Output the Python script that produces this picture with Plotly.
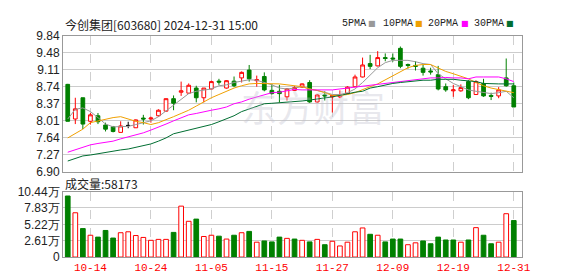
import plotly.graph_objects as go

W, H = 578, 276

dates = ["2024-10-09","2024-10-10","2024-10-11","2024-10-14","2024-10-15","2024-10-16","2024-10-17","2024-10-18",
         "2024-10-21","2024-10-22","2024-10-23","2024-10-24","2024-10-25","2024-10-28","2024-10-29","2024-10-30",
         "2024-10-31","2024-11-01","2024-11-04","2024-11-05","2024-11-06","2024-11-07","2024-11-08","2024-11-11",
         "2024-11-12","2024-11-13","2024-11-14","2024-11-15","2024-11-18","2024-11-19","2024-11-20","2024-11-21",
         "2024-11-22","2024-11-25","2024-11-26","2024-11-27","2024-11-28","2024-11-29","2024-12-02","2024-12-03",
         "2024-12-04","2024-12-05","2024-12-06","2024-12-09","2024-12-10","2024-12-11","2024-12-12","2024-12-13",
         "2024-12-16","2024-12-17","2024-12-18","2024-12-19","2024-12-20","2024-12-23","2024-12-24","2024-12-25",
         "2024-12-26","2024-12-27","2024-12-30","2024-12-31"]

opens = [8.79,8.04,8.50,7.99,8.11,7.91,7.87,7.75,7.90,7.85,8.06,8.04,8.11,8.21,8.48,8.62,8.60,8.71,8.50,8.69,
         8.86,8.71,8.86,8.93,9.10,8.87,8.96,8.66,8.64,8.52,8.66,8.73,8.83,8.41,8.56,8.52,8.52,8.59,8.74,8.95,
         9.24,9.19,9.37,9.36,9.57,9.22,9.20,9.14,9.08,9.00,8.74,8.65,8.65,8.85,8.57,8.81,8.55,8.54,8.93,8.76]
highs = [8.80,8.50,8.50,8.17,8.17,7.96,7.89,7.99,7.98,8.03,8.13,8.09,8.25,8.48,8.55,8.85,8.81,8.76,8.71,8.87,
         8.91,8.88,8.96,9.07,9.21,8.98,9.05,8.80,8.78,8.71,8.75,8.81,8.88,8.58,8.64,8.56,8.66,8.75,9.00,9.37,
         9.43,9.51,9.46,9.46,9.61,9.24,9.29,9.21,9.15,9.19,8.81,8.78,8.79,8.88,8.88,8.91,8.61,8.73,9.35,8.83]
lows = [7.99,7.93,7.82,7.92,7.93,7.77,7.75,7.75,7.84,7.85,7.92,7.96,8.09,8.20,8.23,8.54,8.59,8.40,8.40,8.68,
        8.78,8.70,8.73,8.83,8.85,8.74,8.64,8.57,8.40,8.44,8.65,8.71,8.39,8.39,8.44,8.18,8.49,8.58,8.73,8.94,
        9.12,9.18,9.29,9.28,9.14,9.13,9.09,8.98,9.00,8.66,8.63,8.52,8.63,8.47,8.56,8.52,8.45,8.49,8.74,8.30]
closes = [7.99,8.26,7.93,8.13,7.98,7.82,7.77,7.89,7.90,8.02,8.04,8.06,8.23,8.48,8.38,8.65,8.77,8.50,8.71,8.85,
          8.84,8.87,8.76,9.05,8.91,8.89,8.67,8.59,8.59,8.69,8.72,8.80,8.41,8.56,8.54,8.55,8.57,8.73,8.95,9.21,
          9.18,9.37,9.35,9.34,9.18,9.20,9.18,9.05,9.06,8.69,8.67,8.67,8.72,8.50,8.85,8.54,8.53,8.67,8.76,8.30]

ma5 = [8.04,8.25,8.28,8.20,8.07,7.93,7.87,7.87,7.88,7.92,7.96,8.00,8.09,8.21,8.35,8.47,8.59,8.64,8.67,8.69,
       8.76,8.78,8.83,8.86,8.89,8.88,8.83,8.78,8.71,8.69,8.71,8.74,8.69,8.66,8.62,8.57,8.57,8.61,8.69,8.83,
       8.98,9.15,9.26,9.31,9.31,9.31,9.28,9.24,9.22,9.02,8.91,8.81,8.74,8.67,8.64,8.61,8.59,8.61,8.64,8.50]
ma10 = [7.63,7.72,7.82,7.96,8.00,8.04,8.07,8.09,8.04,7.99,7.96,7.92,7.96,8.02,8.09,8.16,8.23,8.32,8.41,8.50,
        8.57,8.64,8.71,8.76,8.80,8.81,8.81,8.81,8.80,8.78,8.76,8.74,8.69,8.66,8.61,8.55,8.55,8.57,8.61,8.68,
        8.74,8.80,8.89,8.98,9.07,9.15,9.20,9.22,9.22,9.15,9.07,9.02,8.97,8.91,8.83,8.76,8.71,8.68,8.64,8.61]
ma20 = [7.32,7.37,7.43,7.48,7.51,7.54,7.56,7.61,7.65,7.70,7.74,7.80,7.86,7.93,8.00,8.07,8.13,8.16,8.20,8.23,
        8.26,8.30,8.37,8.41,8.47,8.52,8.57,8.61,8.62,8.65,8.68,8.67,8.67,8.66,8.66,8.67,8.69,8.71,8.73,8.74,
        8.76,8.79,8.81,8.83,8.85,8.87,8.89,8.91,8.93,8.93,8.94,8.93,8.93,8.91,8.95,8.95,8.95,8.95,8.91,8.85]
ma30 = [7.13,7.19,7.24,7.26,7.29,7.32,7.35,7.37,7.39,7.43,7.46,7.50,7.56,7.63,7.72,7.76,7.80,7.85,7.89,7.92,
        7.98,8.04,8.11,8.20,8.26,8.32,8.37,8.38,8.39,8.40,8.42,8.43,8.45,8.47,8.49,8.52,8.55,8.59,8.62,8.64,
        8.71,8.74,8.78,8.81,8.83,8.85,8.86,8.88,8.88,8.90,8.90,8.90,8.88,8.86,8.85,8.81,8.80,8.80,8.80,8.80]

# volume in units of 10,000 (万)
volumes = [9.73,7.06,4.54,3.48,3.18,4.24,3.03,3.88,4.03,3.43,3.13,2.67,2.82,2.82,3.93,8.12,5.70,6.05,3.28,3.48,
           3.33,2.87,3.48,3.88,4.09,2.37,2.57,2.42,3.18,2.98,2.87,2.67,2.42,2.82,1.97,2.52,1.77,2.37,4.03,4.64,
           3.63,3.48,2.42,2.87,2.87,1.97,2.27,2.57,2.12,3.18,2.72,2.72,2.37,2.72,4.69,3.48,2.12,2.37,6.91,5.8173]
vol_up = [0,1,0,1,0,0,0,1,1,1,1,1,1,1,0,1,1,0,1,1,
          0,1,0,1,0,1,0,0,0,1,0,1,0,1,0,1,1,1,1,1,
          0,1,0,0,0,1,1,0,0,0,0,0,1,0,1,0,0,1,1,0]

price_ticks = [6.90, 7.27, 7.64, 8.01, 8.37, 8.74, 9.11, 9.48, 9.84]
vol_ticks = [0, 2.61, 5.22, 7.83, 10.44]
vol_tick_text = ["0", "2.61万", "5.22万", "7.83万", "10.44万"]
label_idx = [3, 11, 19, 27, 35, 43, 51, 59]

stock_title = "今创集团[603680] 2024-12-31 15:00"
last_volume = 58173
ma_names = ["5PMA", "10PMA", "20PMA", "30PMA"]
ma_colors = ["#999999", "#f0a000", "#ff00ff", "#006e32"]

RED = "#ff0000"
GREEN = "#008000"

xs = list(range(len(dates)))
doji = [i for i in xs if opens[i] == closes[i]]
normal = [i for i in xs if opens[i] != closes[i]]

fig = go.Figure()

fig.add_trace(go.Candlestick(
    x=[xs[i] for i in normal], open=[opens[i] for i in normal], high=[highs[i] for i in normal],
    low=[lows[i] for i in normal], close=[closes[i] for i in normal],
    increasing=dict(line=dict(color=RED, width=1), fillcolor="white"),
    decreasing=dict(line=dict(color=GREEN, width=1), fillcolor=GREEN),
    xaxis="x", yaxis="y", showlegend=False, hoverinfo="skip"))
fig.add_trace(go.Candlestick(
    x=[xs[i] for i in doji], open=[opens[i] for i in doji], high=[highs[i] for i in doji],
    low=[lows[i] for i in doji], close=[closes[i] for i in doji],
    increasing=dict(line=dict(color="black", width=1), fillcolor="black"),
    decreasing=dict(line=dict(color="black", width=1), fillcolor="black"),
    xaxis="x", yaxis="y", showlegend=False, hoverinfo="skip"))

for name, vals, col in zip(ma_names, [ma5, ma10, ma20, ma30], ma_colors):
    fig.add_trace(go.Scatter(x=xs, y=vals, mode="lines", line=dict(color=col, width=1),
                             xaxis="x", yaxis="y", showlegend=False, hoverinfo="skip", name=name))

fig.add_trace(go.Bar(
    x=xs, y=volumes, width=0.62,
    marker=dict(color=["white" if u else GREEN for u in vol_up],
                line=dict(color=[RED if u else GREEN for u in vol_up], width=1)),
    xaxis="x2", yaxis="y2", showlegend=False, hoverinfo="skip"))

xdom = [56 / W, 522 / W]
xrange_ = [-0.61, 60.07]
common_x = dict(domain=xdom, range=xrange_, tickvals=label_idx, showgrid=True, gridcolor="#cfcfcf",
                griddash="dash", gridwidth=1, showline=True, mirror=True, linecolor="#999999",
                linewidth=1, zeroline=False, ticks="", fixedrange=True)
common_y = dict(showgrid=True, gridcolor="#cccccc", gridwidth=1, showline=True, mirror=True,
                linecolor="#999999", linewidth=1, zeroline=False, ticks="",
                tickfont=dict(family="Liberation Sans, Arial", size=12, color="#222"))

fig.update_layout(
    width=W, height=H, margin=dict(l=0, r=0, t=0, b=0),
    paper_bgcolor="white", plot_bgcolor="white",
    font=dict(family="Noto Sans CJK SC", size=12, color="#222"),
    xaxis=dict(**common_x, anchor="y", showticklabels=False, rangeslider=dict(visible=False)),
    yaxis=dict(**common_y, domain=[(H - 165) / H, (H - 22) / H], range=[price_ticks[0], price_ticks[-1]],
               tickvals=price_ticks, ticktext=["%.2f" % v for v in price_ticks]),
    xaxis2=dict(**common_x, anchor="y2", ticktext=[dates[i][5:] for i in label_idx],
                tickfont=dict(family="Liberation Mono, DejaVu Sans Mono", size=11, color=RED)),
    yaxis2=dict(**common_y, domain=[(H - 255) / H, (H - 186) / H], range=[0, vol_ticks[-1]],
                tickvals=vol_ticks, ticktext=vol_tick_text),
    bargap=0.3,
)

ann = []
ann.append(dict(text=stock_title, x=56 / W, y=1 - 10 / H, xref="paper", yref="paper",
                xanchor="left", yanchor="middle", showarrow=False,
                font=dict(family="Noto Sans CJK SC", size=12, color="#222")))
ann.append(dict(text="成交量:%d" % last_volume, x=56 / W, y=1 - 177 / H, xref="paper", yref="paper",
                xanchor="left", yanchor="middle", showarrow=False,
                font=dict(family="Noto Sans CJK SC", size=12, color="#222")))
leg_x = [337, 379, 425, 471]
sq_x = [370, 417, 464, 510]
for name, col, lx, sx in zip(ma_names, ma_colors, leg_x, sq_x):
    ann.append(dict(text=name, x=lx / W, y=1 - 9 / H, xref="paper", yref="paper",
                    xanchor="left", yanchor="middle", showarrow=False,
                    font=dict(family="Liberation Mono, DejaVu Sans Mono", size=10, color="#222")))
    ann.append(dict(text="■", x=sx / W, y=1 - 9 / H, xref="paper", yref="paper",
                    xanchor="center", yanchor="middle", showarrow=False,
                    font=dict(family="DejaVu Sans", size=8, color=col)))
ann.append(dict(text="东方财富", x=310 / W, y=1 - 96 / H, xref="paper", yref="paper",
                xanchor="center", yanchor="middle", showarrow=False,
                font=dict(family="Noto Sans CJK SC", size=36, color="rgba(190,190,205,0.35)")))
fig.update_layout(annotations=ann)

fig.write_html("out.html")
